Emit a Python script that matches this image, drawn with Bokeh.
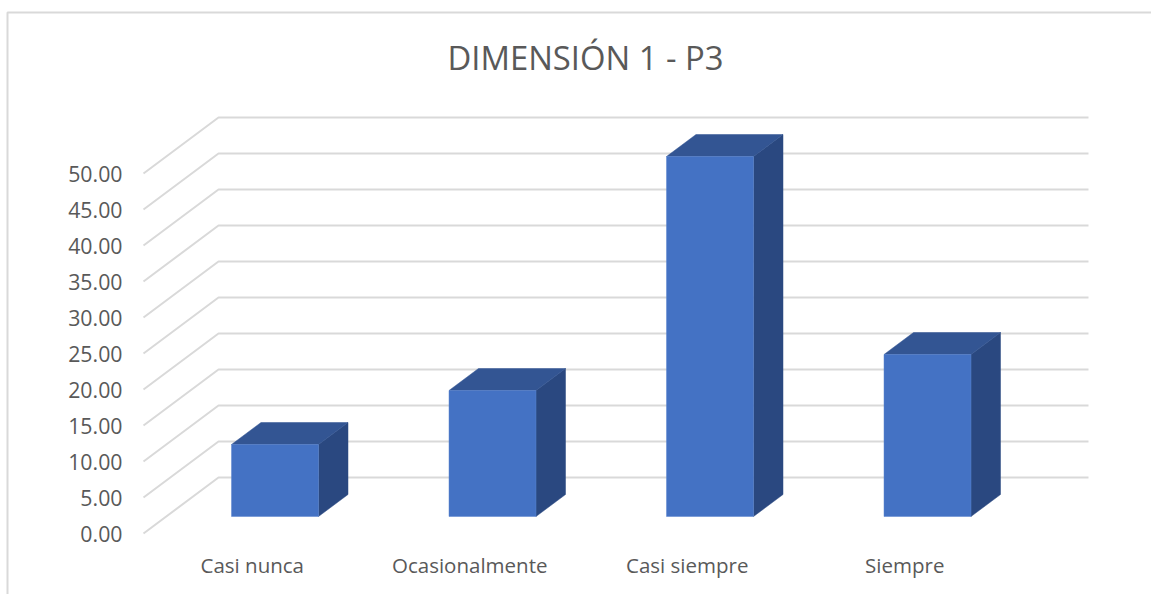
from bokeh.embed import file_html
from bokeh.resources import INLINE
from bokeh.plotting import figure
from bokeh.models import FixedTicker, Label, NumeralTickFormatter, Range1d

# Survey answers, in percent
categories = ["Casi nunca", "Ocasionalmente", "Casi siempre", "Siempre"]
percentages = [10.0, 17.5, 50.0, 22.5]
value_ticks = [0, 5, 10, 15, 20, 25, 30, 35, 40, 45, 50]
chart_title = "DIMENSIÓN 1 - P3"

FONT = "Open Sans"
TEXT = "#595959"
GRID = "#D9D9D9"
FRONT = "#4472C4"
TOP = "#335593"
SIDE = "#2A4880"

# Pixel layout: one category step is 217.5 px, one value unit is 7.2 px
WIDTH, HEIGHT = 1151, 594
ORIGIN_X, ORIGIN_Y = 143, 533
STEP_X, UNIT_Y = 217.5, 7.2


def px_x(px):
    return (px - ORIGIN_X) / STEP_X


def px_y(py):
    return (ORIGIN_Y - py) / UNIT_Y


def dx(px):
    return px / STEP_X


def dy(px):
    return px / UNIT_Y


# The frame fills the page; both axes are pinned inside it
p = figure(
    width=WIDTH, height=HEIGHT, output_backend="svg", toolbar_location=None,
    x_range=Range1d(px_x(0), px_x(WIDTH)),
    y_range=Range1d(px_y(HEIGHT), px_y(0)),
    min_border=0,
    background_fill_color="white", border_fill_color="white",
    outline_line_color=None,
)
p.grid.visible = False

# Chart-area border along the top and left
p.line(x=[px_x(7), px_x(7), px_x(WIDTH)], y=[px_y(HEIGHT), px_y(12), px_y(12)],
       line_color=GRID, line_width=2)

# Floor-to-wall gridlines: a receding diagonal, then the back wall
wall_dx, wall_dy = dx(75), dy(56)
n = len(categories)
p.multi_line(
    xs=[[0, wall_dx, n + wall_dx] for _ in value_ticks],
    ys=[[v, v + wall_dy, v + wall_dy] for v in value_ticks],
    line_color=GRID, line_width=2,
)

# Extruded columns: front face, top face and right side
half = dx(43.5)
shift_x, base = dx(22.75), dy(17)
depth_x, depth_y = dx(29.5), dy(22)
centers = [i + 0.5 + shift_x for i in range(n)]
lefts = [c - half for c in centers]
rights = [c + half for c in centers]
tops = [base + v for v in percentages]

p.patches(
    xs=[[r, r + depth_x, r + depth_x, r] for r in rights],
    ys=[[base, base + depth_y, t + depth_y, t] for t in tops],
    fill_color=SIDE, line_color=SIDE, line_width=0.5,
)
p.patches(
    xs=[[l, l + depth_x, r + depth_x, r] for l, r in zip(lefts, rights)],
    ys=[[t, t + depth_y, t + depth_y, t] for t in tops],
    fill_color=TOP, line_color=TOP, line_width=0.5,
)
p.quad(left=lefts, right=rights, bottom=base, top=tops,
       fill_color=FRONT, line_color="#5B85CF", line_width=0.5)

# Value axis
ax = p.yaxis[0]
ax.fixed_location = px_x(125)
ax.ticker = FixedTicker(ticks=value_ticks)
ax.formatter = NumeralTickFormatter(format="0.00")
ax.axis_line_color = None
ax.major_tick_line_color = None
ax.minor_tick_line_color = None
ax.major_tick_in = 0
ax.major_tick_out = 0
ax.major_label_standoff = 3
ax.major_label_text_font = FONT
ax.major_label_text_font_size = "21.3px"
ax.major_label_text_color = TEXT

# Category axis
cx = p.xaxis[0]
cx.fixed_location = px_y(548)
cx.ticker = FixedTicker(ticks=[i + 0.5 for i in range(n)])
cx.major_label_overrides = {i + 0.5: c for i, c in enumerate(categories)}
cx.axis_line_color = None
cx.major_tick_line_color = None
cx.minor_tick_line_color = None
cx.major_tick_in = 0
cx.major_tick_out = 0
cx.major_label_standoff = 2
cx.major_label_text_font = FONT
cx.major_label_text_font_size = "20.5px"
cx.major_label_text_color = TEXT

p.add_layout(Label(
    x=px_x(585), y=px_y(56.5), text=chart_title,
    text_align="center", text_baseline="middle",
    text_font=FONT, text_font_size="32.8px", text_color=TEXT,
))

open("out.html", "w").write(file_html(p, INLINE))
